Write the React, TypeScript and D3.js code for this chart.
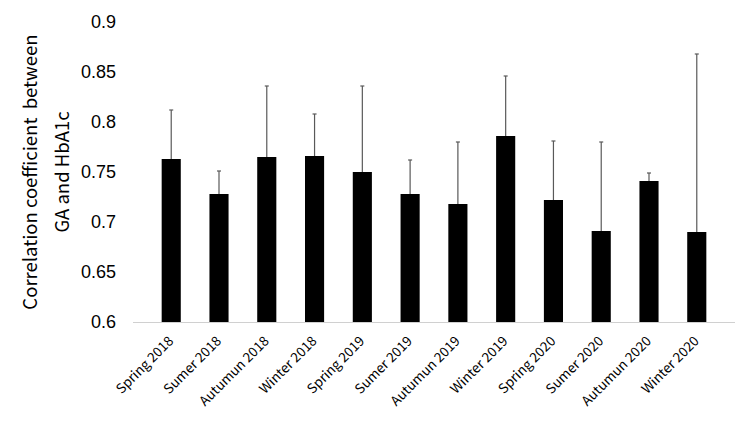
import { useEffect, useRef } from "react"
import * as d3 from "d3"

// seasons on the x axis
const seasons = [
  "Spring 2018",
  "Sumer 2018",
  "Autumun 2018",
  "Winter 2018",
  "Spring 2019",
  "Sumer 2019",
  "Autumun 2019",
  "Winter 2019",
  "Spring 2020",
  "Sumer 2020",
  "Autumun 2020",
  "Winter 2020",
]

// correlation coefficient (bar height)
const coefficients = [0.763, 0.728, 0.765, 0.766, 0.75, 0.728, 0.718, 0.786, 0.722, 0.691, 0.741, 0.69]

// top of the upper error bar
const upperError = [0.812, 0.751, 0.836, 0.808, 0.836, 0.762, 0.78, 0.846, 0.781, 0.78, 0.749, 0.868]

const yTicks = [0.6, 0.65, 0.7, 0.75, 0.8, 0.85, 0.9]

export default function App() {
  const svgRef = useRef<SVGSVGElement>(null)

  useEffect(() => {
    if (!svgRef.current) return
    const svg = d3.select(svgRef.current)
    svg.selectAll("*").remove()

    const left = 133
    const right = 735
    const top = 22
    const bottom = 322

    const x = d3.scaleBand<string>().domain(seasons).range([left, right]).padding(0.6)
    const y = d3.scaleLinear().domain([0.6, 0.9]).range([bottom, top])

    const data = seasons.map((s, i) => ({ season: s, value: coefficients[i], err: upperError[i] }))

    // Y tick labels (no axis line)
    svg
      .append("g")
      .selectAll("text")
      .data(yTicks)
      .enter()
      .append("text")
      .attr("x", 116)
      .attr("y", (d) => y(d))
      .attr("dy", "0.36em")
      .attr("text-anchor", "end")
      .style("font-family", "'Liberation Sans', Arial, sans-serif")
      .style("font-size", "18px")
      .attr("fill", "#000")
      .text((d) => d3.format("")(d))

    // Error bars (upper only)
    const eb = svg.append("g").attr("stroke", "#595959").attr("stroke-width", 1.2)
    eb.selectAll("line.v")
      .data(data)
      .enter()
      .append("line")
      .attr("class", "v")
      .attr("x1", (d) => x(d.season)! + x.bandwidth() / 2)
      .attr("x2", (d) => x(d.season)! + x.bandwidth() / 2)
      .attr("y1", (d) => y(d.value))
      .attr("y2", (d) => y(d.err))
    eb.selectAll("line.c")
      .data(data)
      .enter()
      .append("line")
      .attr("class", "c")
      .attr("x1", (d) => x(d.season)! + x.bandwidth() / 2 - 2)
      .attr("x2", (d) => x(d.season)! + x.bandwidth() / 2 + 2)
      .attr("y1", (d) => y(d.err))
      .attr("y2", (d) => y(d.err))

    // Bars
    svg
      .append("g")
      .selectAll("rect")
      .data(data)
      .enter()
      .append("rect")
      .attr("x", (d) => x(d.season)!)
      .attr("y", (d) => y(d.value))
      .attr("width", x.bandwidth())
      .attr("height", (d) => y(0.6) - y(d.value))
      .attr("fill", "#000")

    // Baseline
    svg
      .append("line")
      .attr("x1", left)
      .attr("x2", right)
      .attr("y1", y(0.6) + 0.5)
      .attr("y2", y(0.6) + 0.5)
      .attr("stroke", "#d0d0d0")
      .attr("stroke-width", 1)

    // X labels, rotated 45 degrees
    const xl = svg
      .append("g")
      .selectAll("g")
      .data(seasons)
      .enter()
      .append("g")
      .attr("transform", (d) => `translate(${x(d)! + x.bandwidth() / 2 + 3},342)`)
    xl.append("text")
      .attr("transform", "rotate(-45)")
      .attr("text-anchor", "end")
      .style("font-family", "'Noto Sans CJK JP', sans-serif")
      .style("font-size", "13.5px")
      .attr("fill", "#000")
      .text((d) => d)

    // Y axis title
    const title = svg
      .append("text")
      .attr("transform", "translate(0,172) rotate(-90)")
      .attr("text-anchor", "middle")
      .style("font-family", "'Noto Sans CJK JP', sans-serif")
      .style("font-size", "18.5px")
      .style("white-space", "pre")
      .attr("fill", "#000")
    title.append("tspan").attr("x", 0).attr("y", 37).text("Correlation coefficient  between")
    title.append("tspan").attr("x", 0).attr("y", 69).text("GA and HbA1c")
  }, [])

  return (
    <svg
      ref={svgRef}
      width={750}
      height={422}
      style={{ position: "absolute", left: 0, top: 0, background: "#fff" }}
    ></svg>
  )
}
